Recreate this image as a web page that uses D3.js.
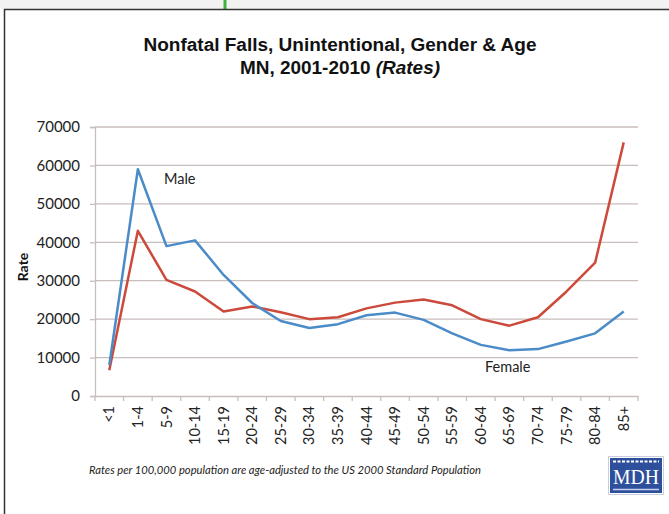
<!DOCTYPE html>
<html>
<head>
<meta charset="utf-8">
<script src="https://cdn.jsdelivr.net/npm/d3@7"></script>
<style>
  body { margin: 0; background: #fff; }
  svg { display: block; }
</style>
</head>
<body>
<svg width="669" height="514"></svg>
<script>
const ageGroups = ['<1','1-4','5-9','10-14','15-19','20-24','25-29','30-34','35-39','40-44',
  '45-49','50-54','55-59','60-64','65-69','70-74','75-79','80-84','85+'];
const maleRates = [8000, 59000, 39000, 40500, 31500, 24200, 19500, 17700, 18700, 21000,
  21700, 19800, 16300, 13300, 11900, 12200, 14200, 16300, 22000];
const femaleRates = [6700, 43000, 30200, 27200, 22000, 23300, 21800, 20000, 20500, 22800,
  24300, 25100, 23600, 20000, 18300, 20500, 27200, 34700, 66000];
const yTicks = [0, 10000, 20000, 30000, 40000, 50000, 60000, 70000];

const svg = d3.select('svg');
const width = +svg.attr('width');
const height = +svg.attr('height');

// page frame
svg.append('rect').attr('x', 0).attr('y', 0).attr('width', width).attr('height', 9)
  .attr('fill', '#f2f2f2');
svg.append('line').attr('x1', 225).attr('x2', 225).attr('y1', 0).attr('y2', 9)
  .attr('stroke', '#3db53d').attr('stroke-width', 3);
svg.append('path').attr('d', `M4.5,${height} V9.5 H${width}`)
  .attr('fill', 'none').attr('stroke', '#333').attr('stroke-width', 1.5);

// title
svg.append('text').attr('x', 340).attr('y', 51).attr('text-anchor', 'middle')
  .attr('font-family', 'Liberation Sans, Arial, sans-serif').attr('font-weight', 'bold')
  .attr('font-size', 18).attr('fill', '#111')
  .attr('textLength', 393).attr('lengthAdjust', 'spacingAndGlyphs')
  .text('Nonfatal Falls, Unintentional, Gender & Age');
const t2 = svg.append('text').attr('x', 340).attr('y', 74).attr('text-anchor', 'middle')
  .attr('font-family', 'Liberation Sans, Arial, sans-serif').attr('font-weight', 'bold')
  .attr('font-size', 18).attr('fill', '#111')
  .attr('textLength', 200).attr('lengthAdjust', 'spacingAndGlyphs');
t2.append('tspan').text('MN, 2001-2010 ');
t2.append('tspan').attr('font-style', 'italic').text('(Rates)');

const plotLeft = 95, plotRight = 638, plotTop = 127, plotBottom = 396;

const x = d3.scaleBand().domain(ageGroups).range([plotLeft, plotRight]);
const y = d3.scaleLinear().domain([0, 70000]).range([plotBottom, plotTop]);
const cx = d => x(d) + x.bandwidth() / 2;

const gridColor = '#c8bebb';

// gridlines
svg.append('g').selectAll('line').data(yTicks.filter(d => d > 0)).join('line')
  .attr('x1', plotLeft).attr('x2', plotRight)
  .attr('y1', d => y(d)).attr('y2', d => y(d))
  .attr('stroke', gridColor).attr('stroke-width', 1.3);

// y axis
const yAxis = svg.append('g').attr('transform', `translate(${plotLeft},0)`)
  .call(d3.axisLeft(y).tickValues(yTicks).tickSize(5).tickPadding(10).tickFormat(d3.format('d')));
yAxis.select('.domain').attr('stroke', gridColor).attr('stroke-width', 1.3);
yAxis.selectAll('.tick line').attr('stroke', gridColor).attr('stroke-width', 1.3);
yAxis.selectAll('text').attr('font-family', 'Lato, sans-serif').attr('font-size', 15)
  .attr('fill', '#222');

// x axis
const xAxis = svg.append('g').attr('transform', `translate(0,${plotBottom})`)
  .call(d3.axisBottom(x).tickSize(0).tickPadding(0));
xAxis.select('.domain').attr('stroke', gridColor).attr('stroke-width', 1.3);
xAxis.selectAll('.tick text')
  .attr('font-family', 'Lato, sans-serif').attr('font-size', 14.5).attr('fill', '#222')
  .attr('transform', 'rotate(-90)').attr('text-anchor', 'end')
  .attr('x', -10).attr('y', 0).attr('dy', '0.35em');
xAxis.append('g').selectAll('line').data(ageGroups.concat([null])).join('line')
  .attr('x1', d => d === null ? plotRight : x(d)).attr('x2', d => d === null ? plotRight : x(d))
  .attr('y1', 0).attr('y2', 5)
  .attr('stroke', gridColor).attr('stroke-width', 1.3);

// y title
svg.append('text').attr('transform', 'translate(28,267) rotate(-90)')
  .attr('text-anchor', 'middle').attr('font-family', 'Lato, sans-serif')
  .attr('font-weight', 'bold').attr('font-size', 14).attr('fill', '#111').text('Rate');

// lines
const line = d3.line().x((d, i) => cx(ageGroups[i])).y(d => y(d));
svg.append('path').datum(femaleRates).attr('d', line)
  .attr('fill', 'none').attr('stroke', '#cc4a3c').attr('stroke-width', 2.5)
  .attr('stroke-linejoin', 'round');
svg.append('path').datum(maleRates).attr('d', line)
  .attr('fill', 'none').attr('stroke', '#4a8bc8').attr('stroke-width', 2.5)
  .attr('stroke-linejoin', 'round');

// series labels
svg.append('text').attr('x', 164).attr('y', 184)
  .attr('font-family', 'Lato, sans-serif').attr('font-size', 14.5).attr('fill', '#222')
  .text('Male');
svg.append('text').attr('x', 485).attr('y', 372)
  .attr('font-family', 'Lato, sans-serif').attr('font-size', 14.5).attr('fill', '#222')
  .text('Female');

// footnote
svg.append('text').attr('x', 89).attr('y', 474)
  .attr('font-family', 'Lato, sans-serif').attr('font-style', 'italic')
  .attr('font-size', 10.5).attr('fill', '#222')
  .attr('textLength', 392).attr('lengthAdjust', 'spacingAndGlyphs')
  .text('Rates per 100,000 population are age-adjusted to the US 2000 Standard Population');

// MDH logo
const logo = svg.append('g').attr('transform', 'translate(610,458)');
logo.append('rect').attr('x', -1.5).attr('y', -1.5).attr('width', 55).attr('height', 38)
  .attr('fill', 'none').attr('stroke', '#c9cde0').attr('stroke-width', 1);
logo.append('rect').attr('width', 52).attr('height', 35).attr('fill', '#2e4f9c');
logo.append('line').attr('x1', 3).attr('x2', 49).attr('y1', 3.5).attr('y2', 3.5)
  .attr('stroke', '#fff').attr('stroke-width', 2).attr('stroke-dasharray', '3,1.5');
logo.append('line').attr('x1', 3).attr('x2', 49).attr('y1', 31.5).attr('y2', 31.5)
  .attr('stroke', '#c9d2ee').attr('stroke-width', 1.5);
logo.append('text').attr('x', 26).attr('y', 26).attr('text-anchor', 'middle')
  .attr('font-family', 'Liberation Serif, serif').attr('font-size', 22).attr('fill', '#fff')
  .attr('textLength', 46).attr('lengthAdjust', 'spacingAndGlyphs').text('MDH');
</script>
</body>
</html>
